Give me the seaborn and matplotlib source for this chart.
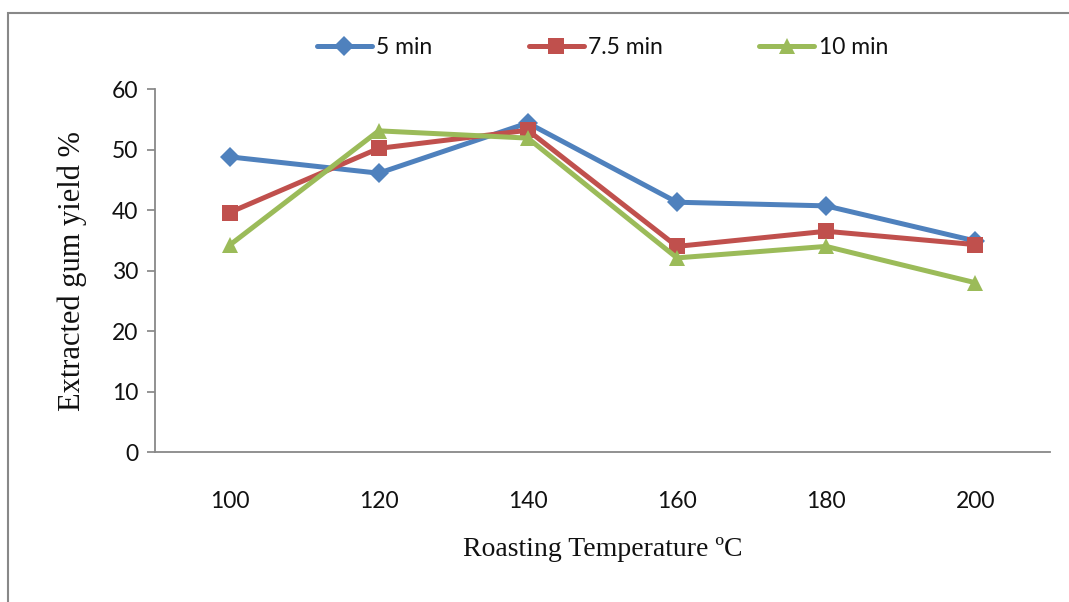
import matplotlib
matplotlib.use("Agg")
import matplotlib.pyplot as plt
import seaborn as sns
import pandas as pd
from matplotlib.patches import Rectangle

temperatures = ["100", "120", "140", "160", "180", "200"]
yield_5min = [48.8, 46.1, 54.4, 41.3, 40.7, 34.9]
yield_7_5min = [39.6, 50.2, 53.2, 34.0, 36.5, 34.3]
yield_10min = [34.2, 53.1, 51.9, 32.1, 34.0, 28.0]
series_names = ["5 min", "7.5 min", "10 min"]

sns.set_theme(style="white")
plt.rcParams['font.family'] = ['Lato', 'DejaVu Sans']

rows = []
for name, vals in zip(series_names, [yield_5min, yield_7_5min, yield_10min]):
    for t, v in zip(temperatures, vals):
        rows.append({"Temperature": t, "Yield": v, "Series": name})
df = pd.DataFrame(rows)

palette = {"5 min": "#4F81BD", "7.5 min": "#C0504D", "10 min": "#9BBB59"}
markers = {"5 min": "D", "7.5 min": "s", "10 min": "^"}
msizes = {"5 min": 10, "7.5 min": 12, "10 min": 12}

fig = plt.figure(figsize=(10.69, 6.02), dpi=100)
ax = fig.add_axes([0.145, 0.249, 0.837, 0.603])

for name in series_names:
    sub = df[df["Series"] == name]
    sns.lineplot(data=sub, x="Temperature", y="Yield", ax=ax, color=palette[name],
                 marker=markers[name], markersize=msizes[name], markeredgewidth=0,
                 linewidth=3.6, label=name, sort=False)

ax.set_xlim(-0.5, len(temperatures) - 0.5)
ax.set_ylim(0, 60)
ax.set_yticks(range(0, 61, 10))
for side in ["top", "right"]:
    ax.spines[side].set_visible(False)
for side in ["left", "bottom"]:
    ax.spines[side].set_color("#888888")
    ax.spines[side].set_linewidth(1.3)
ax.tick_params(axis="y", which="major", left=True, length=6, color="#888888",
               labelsize=16.5, pad=6, labelcolor="#111111")
ax.tick_params(axis="x", bottom=False, labelsize=16.5, pad=22, labelcolor="#111111")
ax.set_xlabel("Roasting Temperature ºC", family="Liberation Serif", fontsize=20,
              labelpad=18, color="#111111")
ax.set_ylabel("Extracted gum yield %", family="Liberation Serif", fontsize=22,
              labelpad=18, color="#111111")
ax.grid(False)

leg = ax.legend(loc="lower center", bbox_to_anchor=(0.5, 1.03), ncol=3, frameon=False,
                fontsize=16.5, handlelength=2.4, handletextpad=0.2, columnspacing=4.2)
for t in leg.get_texts():
    t.set_color("#111111")

fig.patches.append(Rectangle((0.0075, -0.05), 1.2, 1.029, transform=fig.transFigure,
                             fill=False, edgecolor="#888888", linewidth=1.5))

fig.savefig("out.png", dpi=100)
